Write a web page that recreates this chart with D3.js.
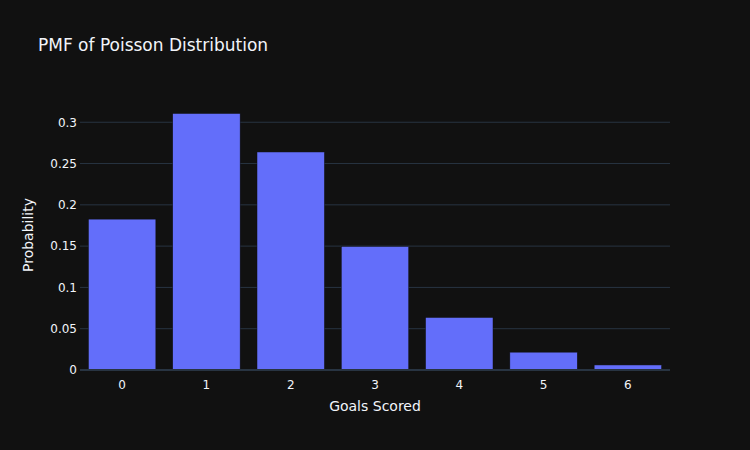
<!DOCTYPE html>
<html>
<head>
<meta charset="utf-8">
<script src="https://cdn.jsdelivr.net/npm/d3@7"></script>
<style>
  body { margin: 0; background: #111111; }
  text { font-family: "DejaVu Sans", Verdana, sans-serif; fill: #f2f5fa; }
</style>
</head>
<body>
<div id="chart"></div>
<script>
// goals scored and their probabilities
var goals = [0, 1, 2, 3, 4, 5, 6];
var probs = [0.1827, 0.3106, 0.2640, 0.1496, 0.0636, 0.0216, 0.0061];
var yTicks = [0, 0.05, 0.1, 0.15, 0.2, 0.25, 0.3];

var width = 750,
    height = 450,
    margin = {top: 100, right: 80, bottom: 80, left: 80};

var svg = d3.select("#chart").append("svg")
    .attr("width", width)
    .attr("height", height)
    .style("background", "#111111");

var x = d3.scaleBand()
    .domain(goals)
    .range([margin.left, width - margin.right])
    .paddingInner(0.2)
    .paddingOuter(0.1);

var y = d3.scaleLinear()
    .domain([0, d3.max(probs) * 1.0526])
    .range([height - margin.bottom, margin.top]);

// grid lines
svg.append("g")
    .selectAll("line")
    .data(yTicks.filter(function (d) { return d > 0; }))
    .enter().append("line")
    .attr("x1", margin.left)
    .attr("x2", width - margin.right)
    .attr("y1", function (d) { return y(d); })
    .attr("y2", function (d) { return y(d); })
    .attr("stroke", "#283442")
    .attr("stroke-width", 1);

// bars
svg.append("g")
    .selectAll("rect")
    .data(goals)
    .enter().append("rect")
    .attr("x", function (d) { return x(d); })
    .attr("width", x.bandwidth())
    .attr("y", function (d, i) { return y(probs[i]); })
    .attr("height", function (d, i) { return y(0) - y(probs[i]); })
    .attr("fill", "#636efa")
    .attr("stroke", "#111111")
    .attr("stroke-width", 0.5);

// zero line
svg.append("line")
    .attr("x1", margin.left)
    .attr("x2", width - margin.right)
    .attr("y1", y(0))
    .attr("y2", y(0))
    .attr("stroke", "#283442")
    .attr("stroke-width", 2);

// y axis
var yAxis = svg.append("g")
    .attr("transform", "translate(" + margin.left + ",0)")
    .call(d3.axisLeft(y).tickValues(yTicks).tickSize(0).tickPadding(3)
        .tickFormat(function (d) { return d3.format("")(+d.toFixed(2)); }));
yAxis.select(".domain").remove();
yAxis.selectAll("text").style("font-size", "12px").attr("fill", "#f2f5fa");

// x axis
var xAxis = svg.append("g")
    .attr("transform", "translate(0," + (height - margin.bottom) + ")")
    .call(d3.axisBottom(x).tickSize(0).tickPadding(10));
xAxis.select(".domain").remove();
xAxis.selectAll("text").style("font-size", "12px").attr("fill", "#f2f5fa");

// titles
svg.append("text")
    .attr("x", 38)
    .attr("y", 51)
    .style("font-size", "17px")
    .text("PMF of Poisson Distribution");

svg.append("text")
    .attr("x", (margin.left + width - margin.right) / 2)
    .attr("y", 411)
    .attr("text-anchor", "middle")
    .style("font-size", "14px")
    .text("Goals Scored");

svg.append("text")
    .attr("transform", "translate(33," + ((margin.top + height - margin.bottom) / 2) + ") rotate(-90)")
    .attr("text-anchor", "middle")
    .style("font-size", "14px")
    .text("Probability");
</script>
</body>
</html>
